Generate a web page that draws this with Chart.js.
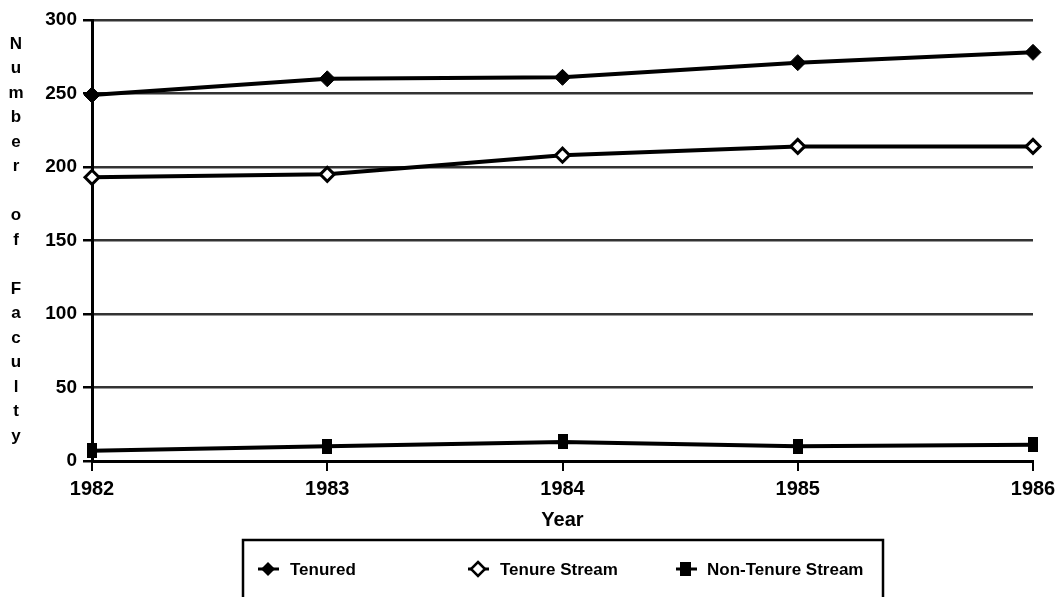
<!DOCTYPE html>
<html>
<head>
<meta charset="utf-8">
<script src="https://cdn.jsdelivr.net/npm/chart.js@4/dist/chart.umd.min.js"></script>
<style>
  html, body { margin: 0; padding: 0; background: #fff; }
  #wrap { width: 1064px; height: 597px; position: relative; }
</style>
</head>
<body>
<div id="wrap"><canvas id="c" width="1064" height="597"></canvas></div>
<script>
const years = ['1982', '1983', '1984', '1985', '1986'];
const tenured = [249, 260, 261, 271, 278];
const tenureStream = [193, 195, 208, 214, 214];
const nonTenureStream = [7, 10, 13, 10, 11];
const seriesNames = ['Tenured', 'Tenure Stream', 'Non-Tenure Stream'];
const yTitle = 'Number of Faculty';
const xTitle = 'Year';

// tall rectangle marker
const rectMarker = document.createElement('canvas');
rectMarker.width = 10; rectMarker.height = 15;
(function(){ const g = rectMarker.getContext('2d'); g.fillStyle = '#000'; g.fillRect(0, 0, 10, 15); })();

const FONT = '"Liberation Sans", Arial, sans-serif';

const overlay = {
  id: 'overlay',
  afterDraw(chart) {
    const ctx = chart.ctx;
    ctx.save();
    // stacked y-axis title
    ctx.fillStyle = '#000';
    ctx.font = 'bold 17px ' + FONT;
    ctx.textAlign = 'center';
    ctx.textBaseline = 'middle';
    const chars = yTitle.split('');
    chars.forEach((ch, i) => {
      if (ch !== ' ') ctx.fillText(ch, 16, 44 + i * 24.5);
    });
    // legend box
    ctx.strokeStyle = '#000';
    ctx.lineWidth = 2.5;
    ctx.strokeRect(243, 540, 640, 62);
    const items = [
      { mx: 268, tx: 290, style: 'diamondFilled' },
      { mx: 478, tx: 500, style: 'diamondHollow' },
      { mx: 686, tx: 707, style: 'rect' }
    ];
    const ly = 569;
    items.forEach((it, i) => {
      ctx.lineWidth = 3;
      ctx.strokeStyle = '#000';
      ctx.beginPath();
      ctx.moveTo(it.mx - 10, ly); ctx.lineTo(it.mx + 11, ly);
      ctx.stroke();
      ctx.beginPath();
      if (it.style === 'rect') {
        ctx.fillStyle = '#000';
        ctx.fillRect(it.mx - 6, ly - 7, 11, 14);
      } else {
        const r = 7;
        ctx.moveTo(it.mx, ly - r); ctx.lineTo(it.mx + r, ly); ctx.lineTo(it.mx, ly + r); ctx.lineTo(it.mx - r, ly); ctx.closePath();
        if (it.style === 'diamondFilled') { ctx.fillStyle = '#000'; ctx.fill(); }
        else { ctx.fillStyle = '#fff'; ctx.fill(); ctx.lineWidth = 2.5; ctx.stroke(); }
      }
      ctx.fillStyle = '#000';
      ctx.font = 'bold 17px ' + FONT;
      ctx.textAlign = 'left';
      ctx.textBaseline = 'middle';
      ctx.fillText(seriesNames[i], it.tx, ly + 1);
    });
    ctx.restore();
  }
};

new Chart(document.getElementById('c'), {
  type: 'line',
  data: {
    labels: years,
    datasets: [
      { label: seriesNames[0], data: tenured, borderColor: '#000', backgroundColor: '#000', borderWidth: 4,
        pointStyle: 'rectRot', pointRadius: 8, pointBackgroundColor: '#000', pointBorderColor: '#000', pointBorderWidth: 1 },
      { label: seriesNames[1], data: tenureStream, borderColor: '#000', backgroundColor: '#fff', borderWidth: 4,
        pointStyle: 'rectRot', pointRadius: 7, pointBackgroundColor: '#fff', pointBorderColor: '#000', pointBorderWidth: 3 },
      { label: seriesNames[2], data: nonTenureStream, borderColor: '#000', backgroundColor: '#000', borderWidth: 4,
        pointStyle: rectMarker, pointRadius: 7 }
    ]
  },
  options: {
    responsive: false,
    animation: false,
    events: [],
    layout: { padding: { left: 0, top: 20, right: 31, bottom: 60 } },
    plugins: { legend: { display: false }, tooltip: { enabled: false } },
    elements: { line: { tension: 0 } },
    scales: {
      x: {
        type: 'category',
        offset: false,
        afterFit(s) { s.height = 76; },
        grid: { drawOnChartArea: false, drawTicks: true, tickLength: 10, color: '#000', lineWidth: 2 },
        border: { display: true, color: '#000', width: 3 },
        ticks: { color: '#000', font: { family: FONT, size: 20, weight: 'bold' }, padding: 6, maxRotation: 0 },
        title: { display: true, text: xTitle, color: '#000', font: { family: FONT, size: 20, weight: 'bold' }, padding: { top: 0, bottom: 5 } }
      },
      y: {
        min: 0, max: 300,
        afterFit(s) { s.width = 92; },
        ticks: { stepSize: 50, color: '#000', font: { family: FONT, size: 19, weight: 'bold' }, padding: 6 },
        grid: { color: '#333', lineWidth: 2.5, borderDash: [1, 1], tickLength: 9, tickColor: '#000', tickWidth: 2.5, tickBorderDash: [] },
        border: { display: true, color: '#000', width: 3 }
      }
    }
  },
  plugins: [overlay]
});
</script>
</body>
</html>
